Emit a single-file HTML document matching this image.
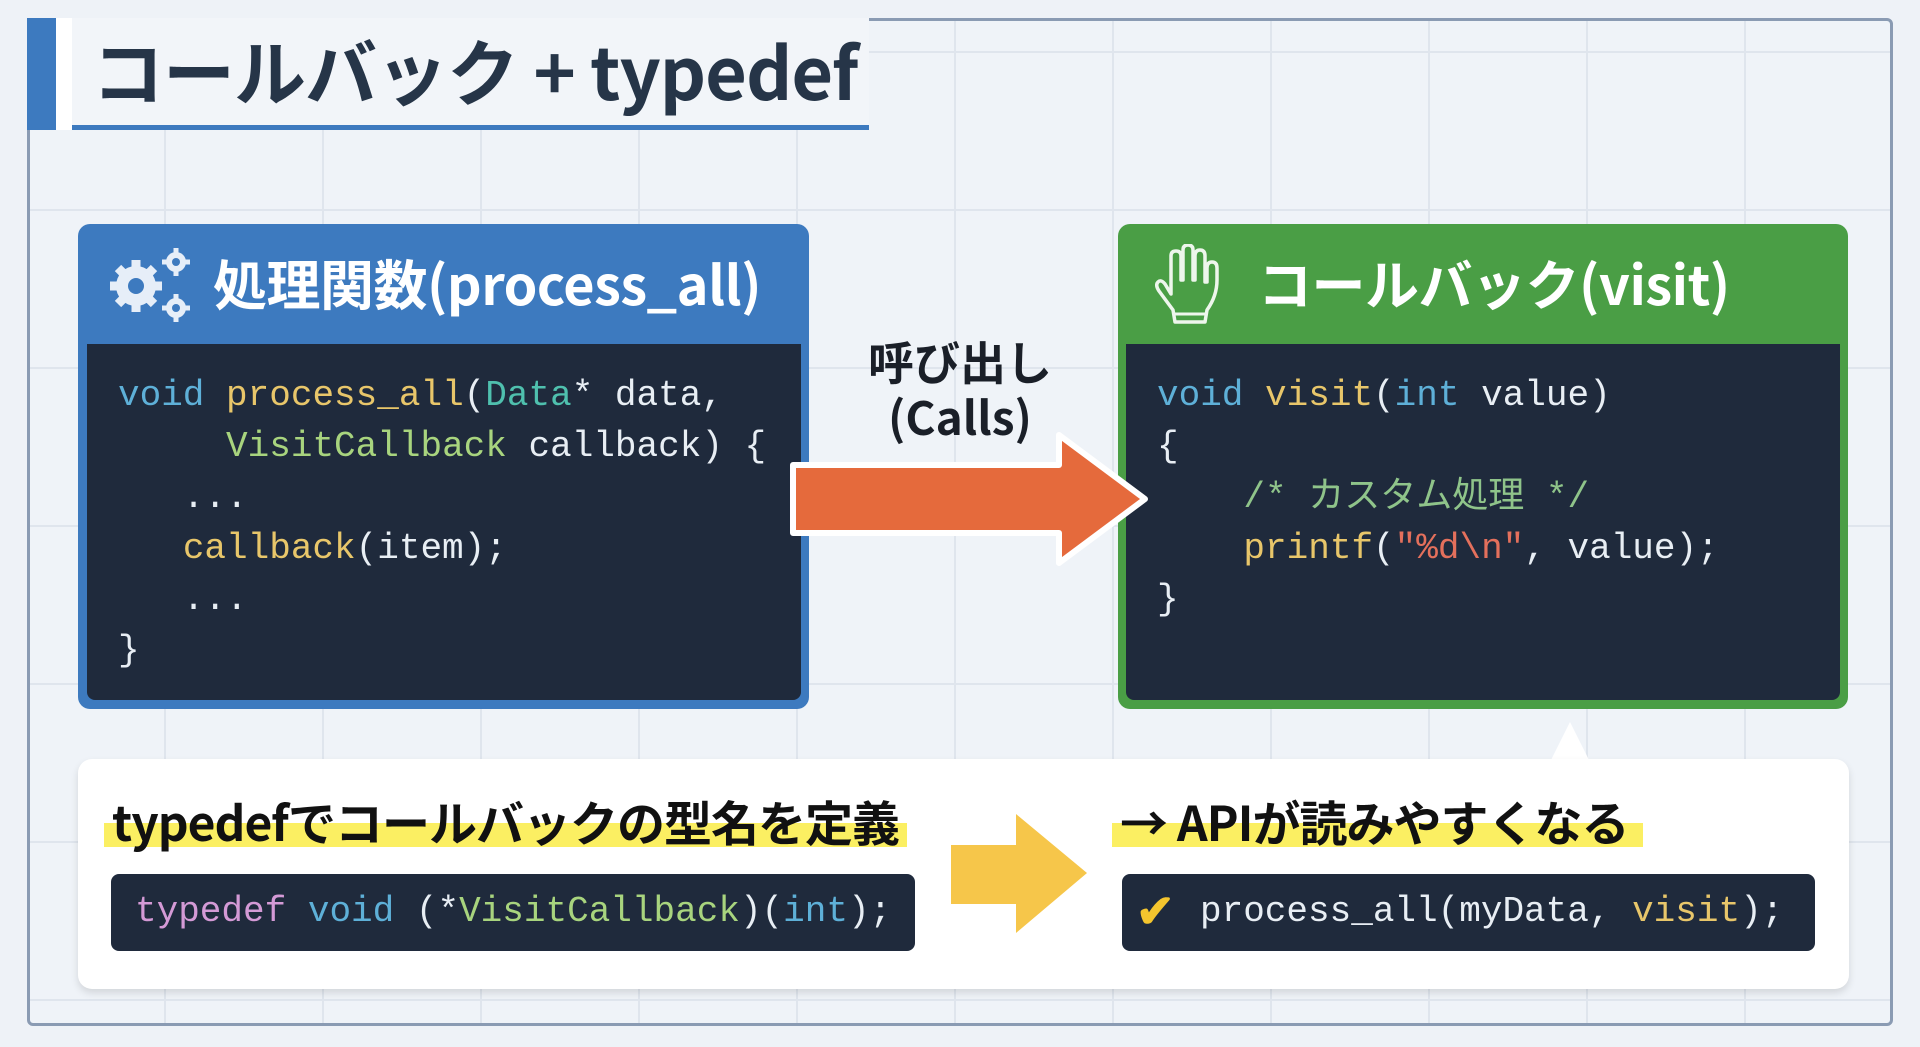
<!DOCTYPE html>
<html><head><meta charset="utf-8">
<style>
*{margin:0;padding:0;box-sizing:border-box}
body{width:1920px;height:1047px;overflow:hidden;background:#eef2f7;font-family:"Liberation Sans","Noto Sans CJK JP",sans-serif;position:relative}
.abs{position:absolute}
.frame{left:27px;top:18px;width:1866px;height:1008px;border:3px solid #8a9bb3;border-radius:6px;
background-color:#eff3f8;
background-image:linear-gradient(#dfe5ed 2px,transparent 2px),linear-gradient(90deg,#dfe5ed 2px,transparent 2px);
background-size:158px 158px;background-position:-24px 30px}
.mono{font-family:"Liberation Mono","Noto Sans CJK JP",monospace}
pre{font-family:"Liberation Mono","Noto Sans CJK JP",monospace;font-size:36px;line-height:51px;color:#e8eef4}
.kw{color:#5eb0d8}.fn{color:#e8c66a}.ty{color:#4fc0ae}.gr{color:#a8d47e}.cm{color:#8fc48a}.st{color:#e4705c}.pk{color:#d49ad6}
.hl{font-family:"Noto Sans CJK JP",sans-serif;font-weight:bold;color:#111;font-size:48px;white-space:nowrap;letter-spacing:-1px;
background:linear-gradient(transparent 55%,#fbef62 55%,#fbef62 92%,transparent 92%);padding:0 8px}
</style></head><body>
<div class="abs frame"></div>
<!-- title -->
<div class="abs" style="left:27px;top:18px;width:29px;height:112px;background:#3d7abf"></div>
<div class="abs" style="left:56px;top:18px;width:16px;height:112px;background:#fff"></div>
<div class="abs" style="left:72px;top:18px;width:797px;height:112px;background:#f2f5f9;border-bottom:5px solid #3d7abf"></div>
<div class="abs" style="left:92px;top:16px;font-family:'Noto Sans CJK JP',sans-serif;font-weight:bold;font-size:72px;color:#263548;white-space:nowrap;letter-spacing:-1px">コールバック + typedef</div>

<!-- left box -->
<div class="abs" style="left:78px;top:224px;width:731px;height:485px;background:#3d7abf;border-radius:12px"></div>
<div class="abs" style="left:87px;top:344px;width:714px;height:356px;background:#1f2a3c;border-radius:0 0 8px 8px"></div>
<svg class="abs" style="left:104px;top:244px" width="92" height="82" viewBox="0 0 92 82">
<g fill="#e6eef8">
<circle cx="32" cy="42" r="20"/><g stroke="#e6eef8" stroke-width="9"><line x1="32" y1="16" x2="32" y2="68"/><line x1="6" y1="42" x2="58" y2="42"/><line x1="14" y1="24" x2="50" y2="60"/><line x1="50" y1="24" x2="14" y2="60"/></g>
<circle cx="72" cy="18" r="10"/><g stroke="#e6eef8" stroke-width="5"><line x1="72" y1="4" x2="72" y2="32"/><line x1="58" y1="18" x2="86" y2="18"/></g>
<circle cx="72" cy="64" r="10"/><g stroke="#e6eef8" stroke-width="5"><line x1="72" y1="50" x2="72" y2="78"/><line x1="58" y1="64" x2="86" y2="64"/></g>
</g>
<circle cx="32" cy="42" r="8" fill="#3d7abf"/><circle cx="72" cy="18" r="4" fill="#3d7abf"/><circle cx="72" cy="64" r="4" fill="#3d7abf"/>
</svg>
<div class="abs" style="left:213px;top:246px;font-family:'Noto Sans CJK JP',sans-serif;font-weight:bold;font-size:54px;color:#fff;white-space:nowrap;line-height:72px;letter-spacing:-0.5px">処理関数(process_all)</div>
<pre class="abs" style="left:118px;top:370px"><span class="kw">void</span> <span class="fn">process_all</span>(<span class="ty">Data</span>* data,
     <span class="gr">VisitCallback</span> callback) {
   ...
   <span class="fn">callback</span>(item);
   ...
}</pre>

<!-- right box -->
<div class="abs" style="left:1118px;top:224px;width:730px;height:485px;background:#4a9e45;border-radius:12px"></div>
<div class="abs" style="left:1126px;top:344px;width:714px;height:356px;background:#1f2a3c;border-radius:0 0 8px 8px"></div>
<svg class="abs" style="left:1155px;top:244px" width="68" height="82" viewBox="0 0 68 82">
<path d="M20 78 L50 78 L52 66 Q62 52 62 36 L62 24 Q62 18 57 18 Q52 18 52 24 L52 38 L50 38 L50 12 Q50 6 45 6 Q40 6 40 12 L40 36 L38 36 L38 6 Q38 1 33 1 Q28 1 28 6 L28 36 L26 36 L26 12 Q26 7 21 7 Q16 7 16 12 L16 50 L10 40 Q6 35 3 38 Q0 41 4 47 L18 66 Z" fill="none" stroke="#eef6ec" stroke-width="3.5" stroke-linejoin="round"/>
<line x1="20" y1="70" x2="50" y2="70" stroke="#eef6ec" stroke-width="3"/>
</svg>
<div class="abs" style="left:1258px;top:246px;font-family:'Noto Sans CJK JP',sans-serif;font-weight:bold;font-size:54px;color:#fff;white-space:nowrap;line-height:72px;letter-spacing:-0.5px">コールバック(visit)</div>
<pre class="abs" style="left:1157px;top:370px"><span class="kw">void</span> <span class="fn">visit</span>(<span class="kw">int</span> value)
{
    <span class="cm">/* カスタム処理 */</span>
    <span class="fn">printf</span>(<span class="st">"%d\n"</span>, value);
}</pre>

<!-- call arrow -->
<svg class="abs" style="left:785px;top:425px" width="370" height="148" viewBox="785 425 370 148">
<polygon points="793,465 1059,465 1059,435 1145,499 1059,563 1059,533 793,533" fill="#e56a3c" stroke="#fff" stroke-width="6" stroke-linejoin="round"/>
</svg>
<div class="abs" style="left:820px;top:334px;width:280px;text-align:center;font-family:'Noto Sans CJK JP',sans-serif;font-weight:bold;font-size:46px;line-height:55px;color:#1a1f28">呼び出し<br>(Calls)</div>

<!-- bottom panel -->
<svg class="abs" style="left:1540px;top:718px" width="60" height="50"><polygon points="8,48 30,4 52,48" fill="#fff"/></svg>
<div class="abs" style="left:78px;top:759px;width:1771px;height:230px;background:#fff;border-radius:14px;box-shadow:0 4px 8px rgba(0,0,0,.12)"></div>
<div class="abs hl" style="left:104px;top:788px;line-height:64px">typedefでコールバックの型名を定義</div>
<div class="abs hl" style="left:1112px;top:788px;line-height:64px;padding-right:14px">→ APIが読みやすくなる</div>
<div class="abs" style="left:111px;top:874px;width:804px;height:77px;background:#1f2a3c;border-radius:8px"></div>
<div class="abs mono" style="left:135px;top:889px;font-size:36px;line-height:46px;color:#e8eef4;white-space:pre"><span class="pk">typedef</span> <span class="kw">void</span> (*<span class="gr">VisitCallback</span>)(<span class="kw">int</span>);</div>
<svg class="abs" style="left:945px;top:810px" width="150" height="130" viewBox="945 810 150 130">
<polygon points="951,845 1016,845 1016,814 1087,873 1016,933 1016,904 951,904" fill="#f6c64a"/>
</svg>
<div class="abs" style="left:1122px;top:874px;width:693px;height:77px;background:#1f2a3c;border-radius:8px"></div>
<div class="abs" style="left:1136px;top:888px;font-size:46px;line-height:46px;color:#f4c52e;font-weight:bold">✔</div>
<div class="abs mono" style="left:1200px;top:889px;font-size:36px;line-height:46px;color:#e8eef4;white-space:pre">process_all(myData, <span class="fn">visit</span>);</div>
</body></html>
